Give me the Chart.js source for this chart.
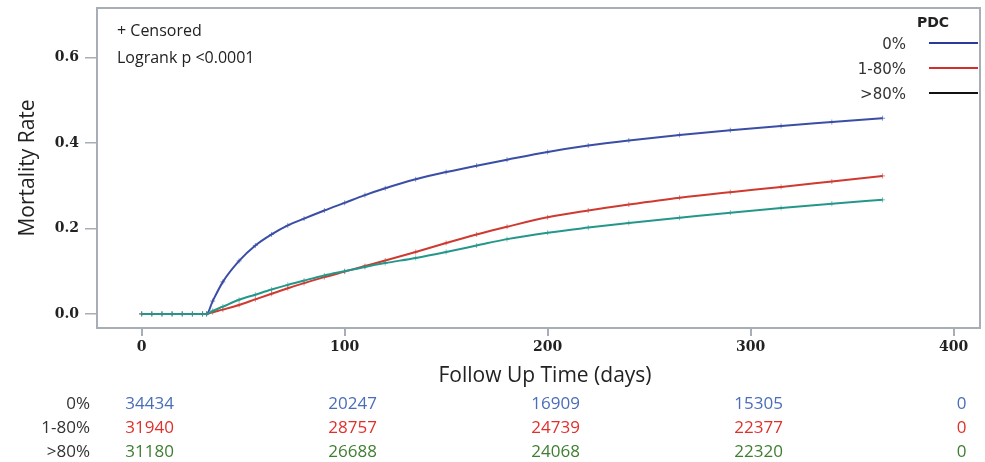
<!DOCTYPE html>
<html>
<head>
<meta charset="utf-8">
<script src="https://cdn.jsdelivr.net/npm/chart.js@4"></script>
<style>
  html, body { margin: 0; padding: 0; background: #fff; }
  #wrap { width: 985px; height: 462px; }
</style>
</head>
<body>
<div id="wrap"><canvas id="kmChart" width="985" height="462"></canvas></div>
<script>
// Follow up days and mortality rate per PDC group
const days = [0, 5, 10, 15, 20, 25, 30, 32, 35, 40, 48, 56, 64, 72, 80, 90, 100, 110, 120, 135, 150, 165, 180, 200, 220, 240, 265, 290, 315, 340, 365];
const pdc0 = [0, 0, 0, 0, 0, 0, 0, 0, 0.030, 0.075, 0.124, 0.160, 0.186, 0.207, 0.223, 0.242, 0.260, 0.278, 0.294, 0.315, 0.332, 0.347, 0.361, 0.379, 0.394, 0.406, 0.419, 0.430, 0.440, 0.449, 0.458];
const pdc1to80 = [0, 0, 0, 0, 0, 0, 0, 0, 0.004, 0.010, 0.021, 0.034, 0.047, 0.060, 0.072, 0.086, 0.099, 0.112, 0.125, 0.145, 0.166, 0.186, 0.204, 0.226, 0.242, 0.256, 0.272, 0.285, 0.297, 0.310, 0.323];
const pdcOver80 = [0, 0, 0, 0, 0, 0, 0, 0, 0.007, 0.017, 0.033, 0.045, 0.057, 0.068, 0.078, 0.090, 0.100, 0.110, 0.119, 0.131, 0.145, 0.160, 0.175, 0.190, 0.202, 0.213, 0.225, 0.237, 0.248, 0.258, 0.267];

const groupLabels = ["0%", "1-80%", ">80%"];
const lineColors = ["#3a4ea6", "#cf3a30", "#25978a"];
const legendColors = ["#2b3a9a", "#d22f2a", "#111111"];
const tableColors = ["#4a6db8", "#e0302b", "#3f7d31"];

// Number at risk table
const riskDays = [0, 100, 200, 300, 400];
const atRisk0 = [34434, 20247, 16909, 15305, 0];
const atRisk1to80 = [31940, 28757, 24739, 22377, 0];
const atRiskOver80 = [31180, 26688, 24068, 22320, 0];

const xTicks = [0, 100, 200, 300, 400];
const yTicks = [0.0, 0.2, 0.4, 0.6];

function toPoints(ys) {
  return days.map((d, i) => ({ x: d, y: ys[i] }));
}

function makeSet(label, ys, color, order) {
  return {
    label: label,
    data: toPoints(ys),
    order: order,
    borderColor: color,
    borderWidth: 2,
    backgroundColor: color,
    pointStyle: "cross",
    pointRadius: 2.5,
    pointBorderWidth: 1,
    pointBorderColor: color + "99",
    cubicInterpolationMode: "monotone",
    fill: false,
  };
}

// Frame, annotations, legend and at-risk table
const extrasPlugin = {
  id: "extras",
  afterDraw(chart) {
    const ctx = chart.ctx;
    const area = chart.chartArea;
    const xs = chart.scales.x;
    ctx.save();

    // plot frame
    ctx.strokeStyle = "#a7aeb6";
    ctx.lineWidth = 2;
    ctx.strokeRect(area.left, area.top, area.right - area.left, area.bottom - area.top);

    // annotations top left
    ctx.fillStyle = "#222";
    ctx.font = "16px 'Open Sans'";
    ctx.textAlign = "left";
    ctx.textBaseline = "middle";
    ctx.fillText("+ Censored", 117, 31);
    ctx.fillText("Logrank p <0.0001", 117, 58);

    // legend
    ctx.font = "bold 14px 'DejaVu Sans'";
    ctx.textAlign = "center";
    ctx.fillText("PDC", 933, 23);
    ctx.font = "15px 'DejaVu Sans'";
    ctx.textAlign = "right";
    const legendY = [45, 70, 95];
    groupLabels.forEach((lab, i) => {
      ctx.fillStyle = "#333";
      ctx.fillText(lab, 906, legendY[i]);
      ctx.strokeStyle = legendColors[i];
      ctx.lineWidth = 2;
      ctx.beginPath();
      ctx.moveTo(929, legendY[i] - 2);
      ctx.lineTo(978, legendY[i] - 2);
      ctx.stroke();
    });

    // axis titles
    ctx.fillStyle = "#222";
    ctx.font = "21px 'Open Sans'";
    ctx.textAlign = "center";
    ctx.fillText("Follow Up Time (days)", 545, 376);
    ctx.save();
    ctx.translate(28, (area.top + area.bottom) / 2);
    ctx.rotate(-Math.PI / 2);
    ctx.fillText("Mortality Rate", 0, 0);
    ctx.restore();

    // number at risk
    const rows = [atRisk0, atRisk1to80, atRiskOver80];
    const rowY = [404, 428, 452];
    ctx.font = "17px 'Open Sans'";
    rows.forEach((vals, r) => {
      ctx.textAlign = "right";
      ctx.fillStyle = "#333";
      ctx.fillText(groupLabels[r], 90, rowY[r]);
      ctx.textAlign = "center";
      ctx.fillStyle = tableColors[r];
      vals.forEach((v, k) => {
        ctx.fillText(String(v), xs.getPixelForValue(riskDays[k]) + 8, rowY[r]);
      });
    });

    ctx.restore();
  },
};

const ctx = document.getElementById("kmChart");
new Chart(ctx, {
  type: "line",
  data: {
    datasets: [
      makeSet(groupLabels[0], pdc0, lineColors[0], 2),
      makeSet(groupLabels[1], pdc1to80, lineColors[1], 1),
      makeSet(groupLabels[2], pdcOver80, lineColors[2], 0),
    ],
  },
  options: {
    responsive: false,
    animation: false,
    layout: { padding: { top: 8, right: 1, left: 0, bottom: 0 } },
    plugins: {
      legend: { display: false },
      tooltip: { enabled: false },
    },
    scales: {
      x: {
        type: "linear",
        min: -22,
        max: 413,
        afterFit: (s) => {
          s.height = 134;
          s.paddingLeft = 0;
          s.paddingRight = 0;
        },
        afterBuildTicks: (s) => { s.ticks = xTicks.map((v) => ({ value: v })); },
        border: { display: false },
        grid: { drawOnChartArea: false, drawTicks: true, tickLength: 8, color: "#a7aeb6", lineWidth: 2 },
        ticks: {
          includeBounds: false,
          padding: 3,
          color: "#222",
          font: { family: "'DejaVu Serif'", size: 14, weight: "bold" },
          maxRotation: 0,
        },
      },
      y: {
        min: -0.033,
        max: 0.716,
        afterFit: (s) => {
          s.width = 97;
          s.paddingTop = 0;
          s.paddingBottom = 0;
        },
        afterBuildTicks: (s) => { s.ticks = yTicks.map((v) => ({ value: v })); },
        border: { display: false },
        grid: { drawOnChartArea: false, drawTicks: true, tickLength: 12, color: "#a7aeb6", lineWidth: 1.5 },
        ticks: {
          includeBounds: false,
          padding: 6,
          color: "#222",
          font: { family: "'DejaVu Serif'", size: 14, weight: "bold" },
          callback: (v) => Number(v).toFixed(1),
        },
      },
    },
  },
  plugins: [extrasPlugin],
});
</script>
</body>
</html>
